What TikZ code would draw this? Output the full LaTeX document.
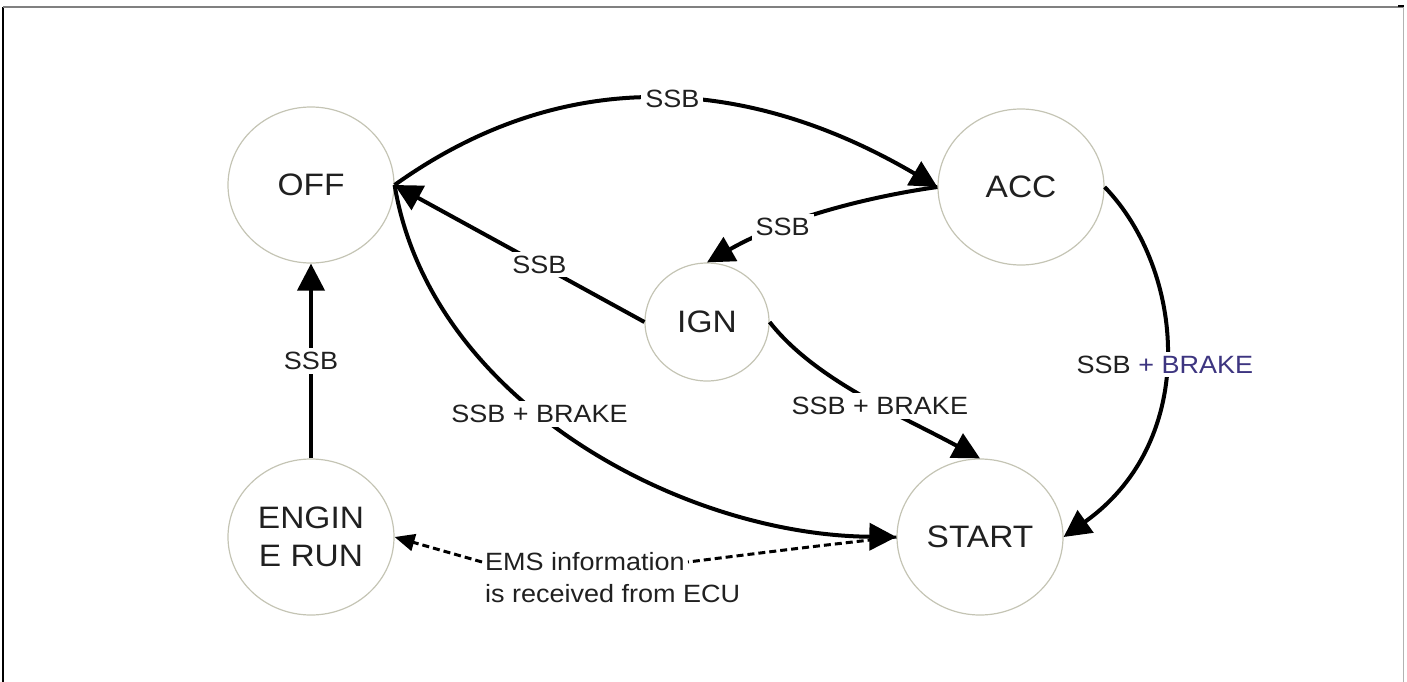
\documentclass[tikz,border=0pt]{standalone}
\usepackage{fontspec}
\setmainfont{Liberation Sans}[FakeStretch=1.08]
\usetikzlibrary{shapes.geometric,arrows.meta}
\definecolor{circ}{HTML}{C4C4B4}
\definecolor{brk}{HTML}{3D3580}
\definecolor{txt}{HTML}{202020}
\tikzset{
  state/.style={ellipse, draw=circ, line width=1.2pt, minimum width=166pt, minimum height=156pt,
    inner sep=0pt, align=center, text=txt, font=\fontsize{31}{38}\selectfont},
  smallstate/.style={state, minimum width=124pt, minimum height=118pt},
  conn/.style={line width=4pt, -{Triangle[length=27pt,width=27pt]}},
  lbl/.style={fill=white, inner sep=4pt, text=txt, font=\fontsize{25}{30}\selectfont},
  emstext/.style={inner sep=3pt, text=txt, font=\fontsize{25}{30}\selectfont},
  dashline/.style={line width=3pt, dash pattern=on 7pt off 4pt},
}
\begin{document}
\begin{tikzpicture}[x=1pt,y=-1pt]
\path[use as bounding box] (0,0) rectangle (1407,682);
% frame
\draw[black, line width=2.5pt] (3,7) -- (3,682);
\draw[gray, line width=1.5pt] (3,7) -- (1403,7);
\draw[gray!60, line width=1pt] (1403,7) -- (1403,682);
\draw[black, line width=2pt] (1398,6) -- (1404,6);
% states
\node[state] (off) at (311,185) {OFF};
\node[state] (acc) at (1021,187) {ACC};
\node[smallstate] (ign) at (707,322) {IGN};
\node[state] (eng) at (311,537) {ENGIN\\E RUN};
\node[state] (start) at (980,537) {START};
% EMS label
\node[emstext, anchor=west] (ems1) at (482,562) {EMS information};
\node[emstext, anchor=west] (ems2) at (482,594) {is received from ECU};
% connectors
\draw[conn] (off.east) .. controls (568,61) and (752,78) .. (acc.west)
  node[lbl, pos=0.52] {SSB};
\draw[conn] (acc.west) .. controls (880,195) and (790,215) .. (ign.north)
  node[lbl, pos=0.7] {SSB};
\draw[conn] (ign.west) -- node[lbl, pos=0.42] {SSB} (off.east);
\draw[conn] (off.east) .. controls (430,400) and (680,535) .. (start.west)
  node[lbl, pos=0.43] {SSB + BRAKE};
\draw[conn] (ign.east) .. controls (815,380) and (900,415) .. (start.north)
  node[lbl, pos=0.58] {SSB + BRAKE};
\draw[conn] (acc.east) .. controls (1185,270) and (1200,440) .. (start.east)
  node[lbl, pos=0.52] {SSB {\color{brk}+ BRAKE}};
\draw[conn] (eng.north) -- node[lbl] {SSB} (off.south);
\draw[dashline] (start.west) .. controls (800,548) .. (ems1.east);
\draw[dashline, -{Triangle[length=20pt,width=17pt]}] (ems1.west) -- (eng.east);
\end{tikzpicture}
\end{document}
